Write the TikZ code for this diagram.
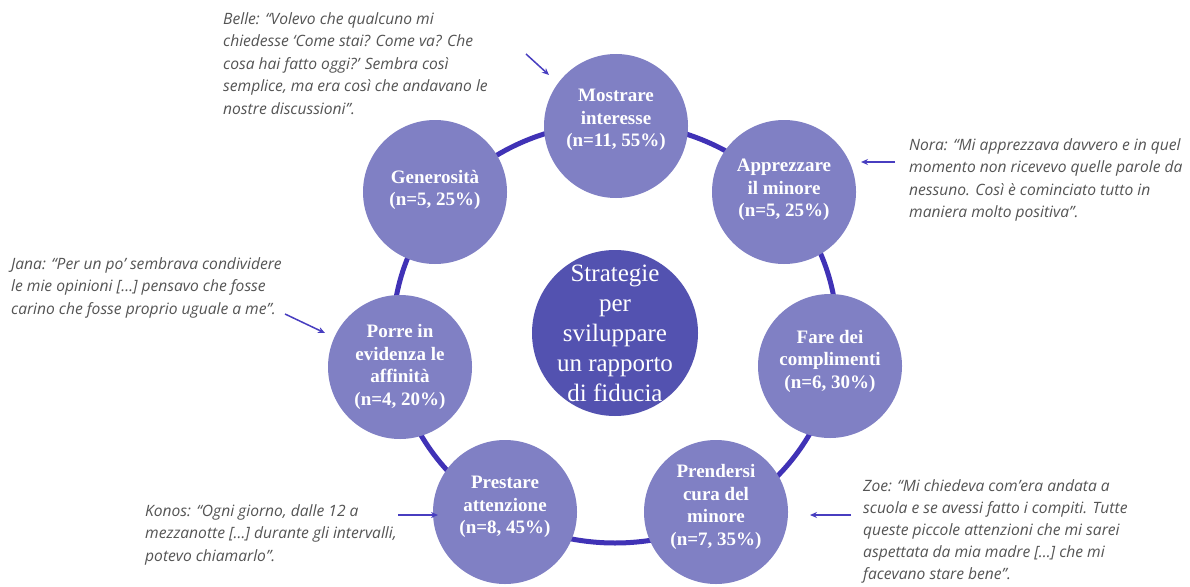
\documentclass[tikz,border=0pt]{standalone}
\usepackage{fontspec}
\setmainfont{Liberation Serif}
\newfontfamily\quotefont{Open Sans}
\usetikzlibrary{arrows.meta}
\definecolor{circfill}{RGB}{128,128,196}
\definecolor{centerfill}{RGB}{83,82,176}
\definecolor{ringblue}{RGB}{64,50,182}
\definecolor{arrowblue}{RGB}{72,62,192}
\definecolor{quotegray}{RGB}{84,84,84}
\begin{document}
\begin{tikzpicture}[x=1pt,y=-1pt,
  circ/.style={circle, fill=circfill, minimum size=144pt, inner sep=0pt},
  lab/.style={text=white, font=\fontsize{19}{22.5}\selectfont\bfseries, align=center, inner sep=0pt},
  quote/.style={font=\quotefont\itshape\fontsize{15.6}{22.5}\selectfont, text=quotegray, align=left, anchor=north west, inner sep=0pt},
  pointer/.style={draw=arrowblue, line width=1.5pt, -{Stealth[length=7pt,width=6pt]}},
  ring/.style={draw=ringblue, line width=5pt}
]
\useasboundingbox[fill=white] (0,0) rectangle (1190,586);
\coordinate (o) at (615,333);
\draw[ring] (o) ellipse [x radius=222, y radius=210];

% outer circles
\node[circ] (c1) at (616,126) {};
\node[circ] (c2) at (784,192) {};
\node[circ] (c3) at (830,366) {};
\node[circ] (c4) at (716,512) {};
\node[circ] (c5) at (505,512) {};
\node[circ] (c6) at (400,367) {};
\node[circ] (c7) at (435,192) {};
\node[circle, fill=centerfill, minimum size=166pt, inner sep=0pt] (c0) at (o) {};

% labels
\node[lab] (l1) at (616,120) {Mostrare\\interesse\\(n=11, 55\%)};
\node[lab] (l2) at (784,190) {Apprezzare\\il minore\\(n=5, 25\%)};
\node[lab] (l3) at (830,361) {Fare dei\\complimenti\\(n=6, 30\%)};
\node[lab] (l4) at (716,507) {Prendersi\\cura del\\minore\\(n=7, 35\%)};
\node[lab] (l5) at (505,507) {Prestare\\attenzione\\(n=8, 45\%)};
\node[lab] (l6) at (400,367) {Porre in\\evidenza le\\affinità\\(n=4, 20\%)};
\node[lab] (l7) at (435,190) {Generosità\\(n=5, 25\%)};
\node[text=white, font=\fontsize{25}{30}\selectfont, align=center, inner sep=0pt] (l0) at (615,333) {Strategie\\per\\sviluppare\\un rapporto\\di fiducia};

% quotes
\node[quote] (qb) at (223,12) {Belle: “Volevo che qualcuno mi\\chiedesse ‘Come stai? Come va? Che\\cosa hai fatto oggi?’ Sembra così\\semplice, ma era così che andavano le\\nostre discussioni”.};
\node[quote] (qn) at (909,138) {Nora: “Mi apprezzava davvero e in quel\\momento non ricevevo quelle parole da\\nessuno. Così è cominciato tutto in\\maniera molto positiva”.};
\node[quote] (qj) at (11,257) {Jana: “Per un po’ sembrava condividere\\le mie opinioni […] pensavo che fosse\\carino che fosse proprio uguale a me”.};
\node[quote] (qk) at (145,504) {Konos: “Ogni giorno, dalle 12 a\\mezzanotte […] durante gli intervalli,\\potevo chiamarlo”.};
\node[quote, font=\quotefont\itshape\fontsize{15.6}{22}\selectfont] (qz) at (863,479) {Zoe: “Mi chiedeva com’era andata a\\scuola e se avessi fatto i compiti. Tutte\\queste piccole attenzioni che mi sarei\\aspettata da mia madre […] che mi\\facevano stare bene”.};

% arrows
\coordinate (ab1) at (526,54);  \coordinate (ab2) at (549,75);
\coordinate (an1) at (895,162); \coordinate (an2) at (861,162);
\coordinate (aj1) at (285,314); \coordinate (aj2) at (325,333);
\coordinate (ak1) at (398,515); \coordinate (ak2) at (438,515);
\coordinate (az1) at (851,515); \coordinate (az2) at (810,515);
\draw[pointer] (ab1) -- (ab2);
\draw[pointer] (an1) -- (an2);
\draw[pointer] (aj1) -- (aj2);
\draw[pointer] (ak1) -- (ak2);
\draw[pointer] (az1) -- (az2);
\end{tikzpicture}
\end{document}
